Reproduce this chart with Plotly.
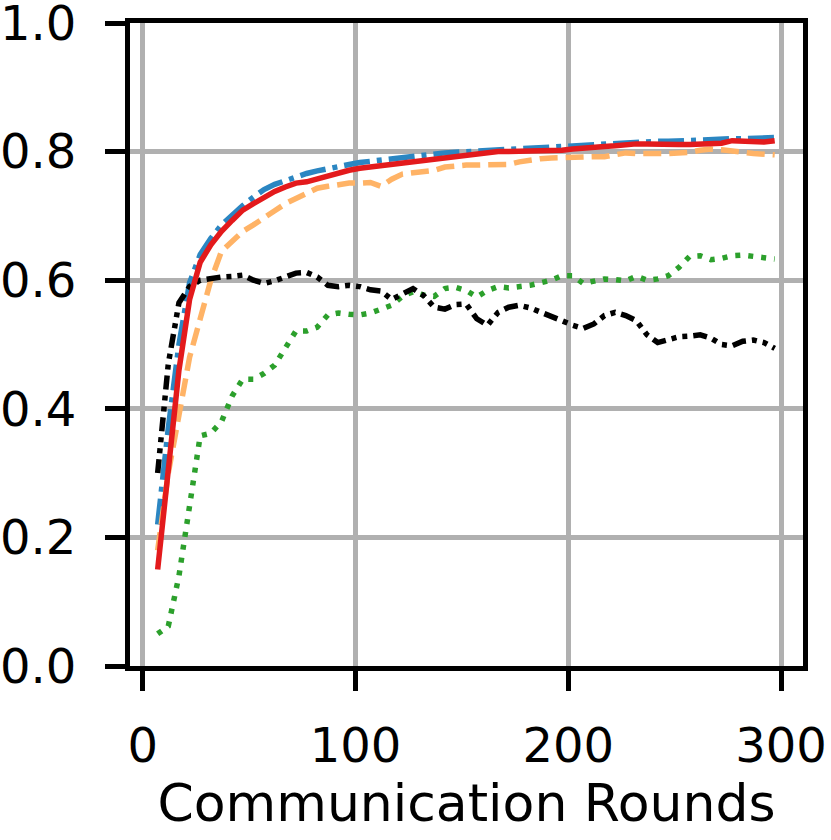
import plotly.graph_objects as go

# Communication rounds (sampled every 5 rounds)
rounds = [7, 12, 17, 22, 27, 32, 37, 42, 47, 52, 57, 62, 67, 72, 77, 82, 87, 92, 97, 102,
          107, 112, 117, 122, 127, 132, 137, 142, 147, 152, 157, 162, 167, 172, 177, 182,
          187, 192, 197, 202, 207, 212, 217, 222, 227, 232, 237, 242, 247, 252, 257, 262,
          267, 272, 277, 282, 287, 292, 297]

acc_blue = [0.22, 0.37, 0.50, 0.596, 0.64, 0.665, 0.686, 0.702, 0.716, 0.729, 0.741, 0.749,
            0.755, 0.761, 0.766, 0.770, 0.774, 0.777, 0.780, 0.783, 0.785, 0.787, 0.789,
            0.791, 0.794, 0.795, 0.797, 0.798, 0.799, 0.800, 0.801, 0.802, 0.803, 0.803,
            0.804, 0.805, 0.806, 0.807, 0.809, 0.810, 0.811, 0.812, 0.813, 0.814, 0.814,
            0.815, 0.815, 0.816, 0.816, 0.817, 0.817, 0.818, 0.818, 0.819, 0.820, 0.820,
            0.821, 0.821, 0.822]

acc_orange = [0.18, 0.30, 0.39, 0.48, 0.54, 0.60, 0.645, 0.662, 0.676, 0.686, 0.698,
              0.708, 0.719, 0.727, 0.736, 0.743, 0.746, 0.749, 0.751, 0.751, 0.752, 0.746,
              0.757, 0.765, 0.767, 0.769, 0.771, 0.776, 0.778, 0.779, 0.779, 0.779, 0.779,
              0.780, 0.784, 0.787, 0.789, 0.790, 0.791, 0.792, 0.792, 0.792, 0.792, 0.795,
              0.798, 0.797, 0.796, 0.797, 0.797, 0.797, 0.799, 0.802, 0.804, 0.803, 0.800,
              0.799, 0.797, 0.796, 0.795]

acc_green = [0.05, 0.062, 0.14, 0.25, 0.358, 0.362, 0.38, 0.42, 0.446, 0.446, 0.455, 0.468,
             0.495, 0.521, 0.521, 0.527, 0.546, 0.549, 0.547, 0.546, 0.549, 0.555, 0.561,
             0.575, 0.582, 0.577, 0.575, 0.587, 0.589, 0.584, 0.574, 0.584, 0.590, 0.588,
             0.589, 0.592, 0.596, 0.600, 0.607, 0.607, 0.595, 0.599, 0.602, 0.601, 0.599,
             0.606, 0.600, 0.602, 0.607, 0.620, 0.637, 0.638, 0.632, 0.634, 0.638, 0.639,
             0.637, 0.634, 0.633]

acc_black = [0.30, 0.47, 0.565, 0.59, 0.60, 0.603, 0.605, 0.606, 0.608, 0.600, 0.595, 0.599,
             0.606, 0.611, 0.612, 0.605, 0.592, 0.590, 0.592, 0.590, 0.585, 0.583, 0.570,
             0.578, 0.587, 0.576, 0.558, 0.555, 0.562, 0.563, 0.540, 0.530, 0.550, 0.558,
             0.561, 0.557, 0.551, 0.545, 0.537, 0.530, 0.525, 0.532, 0.545, 0.550, 0.545,
             0.537, 0.515, 0.503, 0.508, 0.512, 0.513, 0.515, 0.510, 0.500, 0.498, 0.505,
             0.507, 0.503, 0.494]

acc_red = [0.15, 0.31, 0.46, 0.57, 0.628, 0.655, 0.676, 0.693, 0.709, 0.719, 0.729, 0.738,
           0.745, 0.751, 0.753, 0.758, 0.763, 0.767, 0.771, 0.774, 0.776, 0.779, 0.781,
           0.783, 0.785, 0.787, 0.790, 0.792, 0.794, 0.795, 0.797, 0.798, 0.800, 0.800,
           0.800, 0.801, 0.801, 0.801, 0.802, 0.804, 0.806, 0.807, 0.808, 0.809, 0.811,
           0.812, 0.812, 0.811, 0.811, 0.811, 0.811, 0.811, 0.812, 0.813, 0.817, 0.816,
           0.814, 0.815, 0.817]

x_ticks = [0, 100, 200, 300]
y_ticks = [0.0, 0.2, 0.4, 0.6, 0.8, 1.0]

FONT = "DejaVu Sans"
LW = 5.5

fig = go.Figure()

# draw order: blue, orange, green, black, red on top
fig.add_trace(go.Scatter(
    x=rounds, y=acc_blue, mode="lines",
    line=dict(color="#2b86c2", width=LW, dash="26px,7px,5px,7px"),
))
fig.add_trace(go.Scatter(
    x=rounds, y=acc_orange, mode="lines",
    line=dict(color="#ffb366", width=LW, dash="18px,8px"),
))
fig.add_trace(go.Scatter(
    x=rounds, y=acc_green, mode="lines",
    line=dict(color="#2ca02c", width=LW, dash="5px,8px"),
))
fig.add_trace(go.Scatter(
    x=rounds, y=acc_black, mode="lines",
    line=dict(color="#000000", width=LW, dash="14px,6px,5px,6px,5px,6px"),
))
fig.add_trace(go.Scatter(
    x=rounds, y=acc_red, mode="lines",
    line=dict(color="#e31a1c", width=LW),
))

axis_common = dict(
    automargin=False,
    showline=True,
    linecolor="black",
    linewidth=5,
    mirror=True,
    showgrid=True,
    gridcolor="#b0b0b0",
    gridwidth=5,
    zeroline=False,
    ticks="outside",
    ticklen=20,
    tickwidth=5,
    tickcolor="black",
    ticklabeloverflow="allow",
    tickfont=dict(family=FONT, size=48, color="black"),
)

fig.update_layout(
    width=831,
    height=840,
    showlegend=False,
    plot_bgcolor="white",
    paper_bgcolor="white",
    margin=dict(l=130, r=28, t=23, b=174),
    xaxis=dict(
        **axis_common,
        range=[-6, 310.3],
        tickvals=x_ticks,
        ticktext=[str(v) for v in x_ticks],
        ticklabelstandoff=13,
        title=dict(text="Communication Rounds",
                   font=dict(family=FONT, size=52, color="black"),
                   standoff=14),
    ),
    yaxis=dict(
        **axis_common,
        range=[0, 1],
        tickvals=y_ticks,
        ticktext=[f"{v:.1f}" for v in y_ticks],
        ticklabelstandoff=19,
    ),
)

# drop the default 8px body margin so the figure fills the window exactly
fig.write_html(
    "out.html",
    config={"displayModeBar": False},
    post_script="document.body.style.margin = '0';",
)
